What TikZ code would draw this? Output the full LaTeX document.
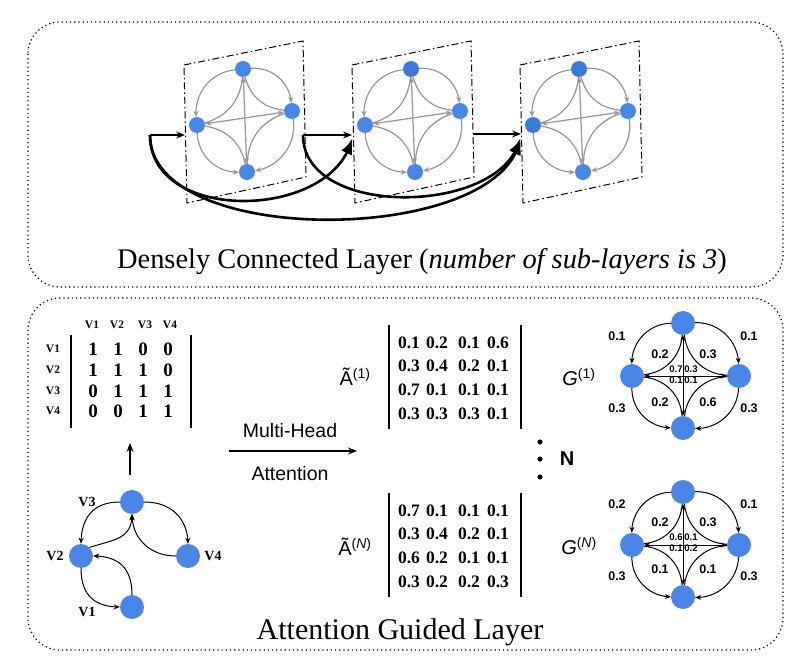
\documentclass[tikz,border=0pt]{standalone}
\usepackage{fontspec}
\setmainfont{Liberation Serif}
\setsansfont{Liberation Sans}
\usetikzlibrary{arrows.meta,bending}
\definecolor{nblue}{RGB}{74,134,232}
\definecolor{nblueD}{RGB}{60,120,216}
\definecolor{egray}{RGB}{150,150,150}
\newcommand\mytopgraph[4]{%
\begin{scope}[xshift=#1]
 \node[snode,fill=#3] (#2t) at (243,69) {};
 \node[snode] (#2r) at (292,111) {};
 \node[snode,fill=#4] (#2l) at (197,125) {};
 \node[snode] (#2b) at (247,172) {};
 \draw[gedge] (#2t) to[bend right=45] (#2l);
 \draw[gedge] (#2t) to[bend left=45] (#2r);
 \draw[gedge] (#2l) to[bend right=45] (#2b);
 \draw[gedge] (#2r) to[bend left=45] (#2b);
 \draw[gline] (#2l) to[bend right=35] (#2t);
 \draw[gline] (#2r) to[bend left=35] (#2t);
 \draw[gline] (#2l) to[bend left=35] (#2b);
 \draw[gline] (#2r) to[bend right=35] (#2b);
 \draw[gline,{Stealth[length=6pt,width=5pt]}-{Stealth[length=6pt,width=5pt]}] (#2l) -- (#2r);
 \draw[gline,{Stealth[length=6pt,width=5pt]}-{Stealth[length=6pt,width=5pt]}] (#2t) -- (#2b);
\end{scope}}
\newcommand\mygraphG[2]{%
\begin{scope}[yshift=#1]
 \node[bnode] (#2t) at (683,323) {};
 \node[bnode] (#2l) at (632,376) {};
 \node[bnode] (#2r) at (739,376) {};
 \node[bnode] (#2b) at (683,428) {};
 \draw[kedge] (#2t) to[bend right=45] (#2l);
 \draw[kedge] (#2t) to[bend left=45] (#2r);
 \draw[kedge] (#2l) to[bend right=45] (#2b);
 \draw[kedge] (#2r) to[bend left=45] (#2b);
 \draw[kline] (#2l) to[bend right=40] (#2t);
 \draw[kline] (#2r) to[bend left=40] (#2t);
 \draw[kline] (#2l) to[bend left=40] (#2b);
 \draw[kline] (#2r) to[bend right=40] (#2b);
 \draw[kline,{Stealth[length=6pt,width=5pt]}-{Stealth[length=6pt,width=5pt]}] (#2l) -- (#2r);
 \draw[kline,{Stealth[length=6pt,width=5pt]}-{Stealth[length=6pt,width=5pt]}] (#2t) -- (#2b);
\end{scope}}
\begin{document}
\begin{tikzpicture}[x=1pt,y=-1pt,
  snode/.style={circle,fill=nblue,minimum size=16pt,inner sep=0pt},
  bnode/.style={circle,fill=nblue,minimum size=24pt,inner sep=0pt},
  gline/.style={draw=egray,line width=1.2pt},
  gedge/.style={gline,-{Stealth[length=6pt,width=5pt]}},
  kline/.style={draw=black,line width=1pt},
  kedge/.style={kline,-{Stealth[length=6pt,width=5pt]}},
  plane/.style={draw=black,line width=1pt,dash pattern=on 7pt off 3pt on 1.5pt off 3pt},
  panel/.style={draw=black,line width=1.2pt,dash pattern=on 1.2pt off 3pt,rounded corners=32pt},
  thinarrow/.style={draw=black,line width=1.3pt,-{Stealth[length=9pt,width=7pt]}},
  thickarrow/.style={draw=black,line width=2.6pt,-{Latex[length=16pt,width=12pt,bend]}},
  vlab/.style={font=\bfseries\fontsize{11.5}{12}\selectfont,inner sep=0pt},
  gvlab/.style={font=\bfseries\fontsize{14}{15}\selectfont,inner sep=0pt},
  adj/.style={font=\bfseries\fontsize{19}{20}\selectfont,inner sep=0pt},
  mval/.style={font=\bfseries\fontsize{17.5}{18}\selectfont,inner sep=0pt},
  wlab/.style={font=\sffamily\bfseries\fontsize{12.5}{13}\selectfont,inner sep=0pt},
  clab/.style={font=\sffamily\bfseries\fontsize{9.6}{10}\selectfont,inner sep=0pt},
  bar/.style={draw=black,line width=1.5pt},
  bigtitle/.style={font=\fontsize{28.4}{31}\selectfont,inner sep=0pt},
  sflab/.style={font=\sffamily\fontsize{20}{22}\selectfont,inner sep=0pt}
]
\useasboundingbox (0,0) rectangle (806,660);
% panels
\draw[panel] (28,22) rectangle (783,287);
\draw[panel] (28,298) rectangle (783,650);
% planes
\foreach \s in {0,168,336}{
  \draw[plane,xshift=\s] (184,65) -- (303,41) -- (306,177) -- (187,203) -- cycle;
}
\mytopgraph{0pt}{a}{nblue}{nblue}
\mytopgraph{168pt}{b}{nblueD}{nblue}
\mytopgraph{336pt}{c}{nblueD}{nblueD}
% connectors
\coordinate (s1) at (150,135);
\coordinate (e1) at (185,135);
\coordinate (s2) at (303,135);
\coordinate (e2) at (352,135);
\coordinate (s3) at (473,134);
\coordinate (e3) at (521,134);
\coordinate (t2) at (352,138);
\coordinate (t3) at (520,138);
\draw[thinarrow] (s1) -- (e1);
\draw[thinarrow] (s2) -- (e2);
\draw[thinarrow] (s3) -- (e3);
\draw[thickarrow] (s1) .. controls (150,225) and (335,220) .. (t2);
\draw[thickarrow] (s1) .. controls (150,250) and (505,245) .. (t3);
\draw[thickarrow] (s2) .. controls (303,220) and (505,215) .. (t3);
\node[bigtitle] (title1) at (422,262) {Densely Connected Layer (\textit{number of sub-layers is 3})};
% adjacency matrix
\foreach \c [count=\i] in {92,117,145,170}{\node[vlab] (h\i) at (\c,325) {V\i};}
\foreach \r [count=\i] in {349,370,391,411}{\node[vlab] (rl\i) at (53,\r) {V\i};}
\foreach \r/\vals [count=\i] in {349/{1,1,0,0},370/{1,1,1,0},391/{0,1,1,1},411/{0,0,1,1}}{
  \foreach \v [count=\j] in \vals {
    \pgfmathsetmacro\xx{{93,118,143,168}[\j-1]}
    \node[adj] (m\i\j) at (\xx,\r) {\v};
  }
}
\draw[bar] (71,335) -- (71,428);
\draw[bar] (191,335) -- (191,428);
% input graph
\node[bnode] (v3) at (132,502) {};
\node[bnode] (v2) at (81,556) {};
\node[bnode] (v4) at (188,556) {};
\node[bnode] (v1) at (132,607) {};
\node[gvlab] (lv3) at (87,502) {V3};
\node[gvlab] (lv2) at (55,556) {V2};
\node[gvlab] (lv4) at (213,556) {V4};
\node[gvlab] (lv1) at (87,612) {V1};
\draw[kedge] (v3.west) .. controls +(-30,0) and +(0,-22) .. (v2.north);
\draw[kedge] (v3.east) .. controls +(30,0) and +(0,-22) .. (v4.north);
\draw[kedge] (v2.north east) .. controls +(25,-8) and +(0,25) .. (v3.south);
\draw[kedge] (v4.west) .. controls +(-25,0) and +(0,25) .. (v3.south);
\draw[kedge] (v1.north) .. controls +(0,-30) and +(22,0) .. (v2.east);
\draw[kedge] (v2.south) .. controls +(0,30) and +(-22,0) .. (v1.west);
\coordinate (up0) at (130,475);
\coordinate (up1) at (130,443);
\draw[thinarrow] (up0) -- (up1);
% multi-head arrow
\coordinate (mh0) at (229,451);
\coordinate (mh1) at (357,451);
\draw[thinarrow,line width=1.1pt] (mh0) -- (mh1);
\node[font=\sffamily\fontsize{19.5}{21}\selectfont,inner sep=0pt] (mhl) at (290,431) {Multi-Head};
\node[font=\sffamily\fontsize{19.5}{21}\selectfont,inner sep=0pt] (mhl2) at (290,474) {Attention};
% attention matrices
\node[sflab] (A1) at (355,377) {Ã\textsuperscript{(1)}};
\node[sflab] (AN) at (355,547) {Ã\textsuperscript{(\textit{N})}};
\foreach \r/\vals [count=\i] in {343/{0.1,0.2,0.1,0.6},366/{0.3,0.4,0.2,0.1},390/{0.7,0.1,0.1,0.1},414/{0.3,0.3,0.3,0.1}}{
  \foreach \v [count=\j] in \vals {
    \pgfmathsetmacro\xx{{409,437,469,498}[\j-1]}
    \node[mval] (p\i\j) at (\xx,\r) {\v};
  }
}
\foreach \r/\vals [count=\i] in {511/{0.7,0.1,0.1,0.1},534/{0.3,0.4,0.2,0.1},558/{0.6,0.2,0.1,0.1},582/{0.3,0.2,0.2,0.3}}{
  \foreach \v [count=\j] in \vals {
    \pgfmathsetmacro\xx{{409,437,469,498}[\j-1]}
    \node[mval] (q\i\j) at (\xx,\r) {\v};
  }
}
\draw[bar] (389,325) -- (389,429);
\draw[bar] (521,325) -- (521,429);
\draw[bar] (389,493) -- (389,597);
\draw[bar] (521,493) -- (521,597);
% dots and N
\fill (540,442) circle (2.6pt);
\fill (540,459) circle (2.6pt);
\fill (540,477) circle (2.6pt);
\node[font=\sffamily\bfseries\fontsize{20}{21}\selectfont,inner sep=0pt] (NN) at (567,459) {N};
% G graphs
\node[sflab] (G1) at (579,377) {\textit{G}\textsuperscript{(1)}};
\node[sflab] (GN) at (579,546) {\textit{G}\textsuperscript{(\textit{N})}};
\mygraphG{0pt}{g}
\mygraphG{-169pt}{h}
% labels G1
\node[wlab] at (617,336) {0.1};
\node[wlab] at (749,336) {0.1};
\node[wlab] at (617,408) {0.3};
\node[wlab] at (749,408) {0.3};
\node[wlab] at (660,354) {0.2};
\node[wlab] at (708,354) {0.3};
\node[wlab] at (660,402) {0.2};
\node[wlab] at (708,402) {0.6};
\node[clab] at (676,369) {0.7};
\node[clab] at (691,369) {0.3};
\node[clab] at (676,380) {0.1};
\node[clab] at (691,380) {0.1};
% labels GN
\node[wlab] at (617,504) {0.2};
\node[wlab] at (749,504) {0.1};
\node[wlab] at (617,576) {0.3};
\node[wlab] at (749,576) {0.3};
\node[wlab] at (660,522) {0.2};
\node[wlab] at (708,522) {0.3};
\node[wlab] at (660,569) {0.1};
\node[wlab] at (708,569) {0.1};
\node[clab] at (676,537) {0.6};
\node[clab] at (691,537) {0.1};
\node[clab] at (676,548) {0.1};
\node[clab] at (691,548) {0.2};
\node[font=\fontsize{30}{33}\selectfont,inner sep=0pt] (title2) at (400,632) {Attention Guided Layer};
\end{tikzpicture}
\end{document}
